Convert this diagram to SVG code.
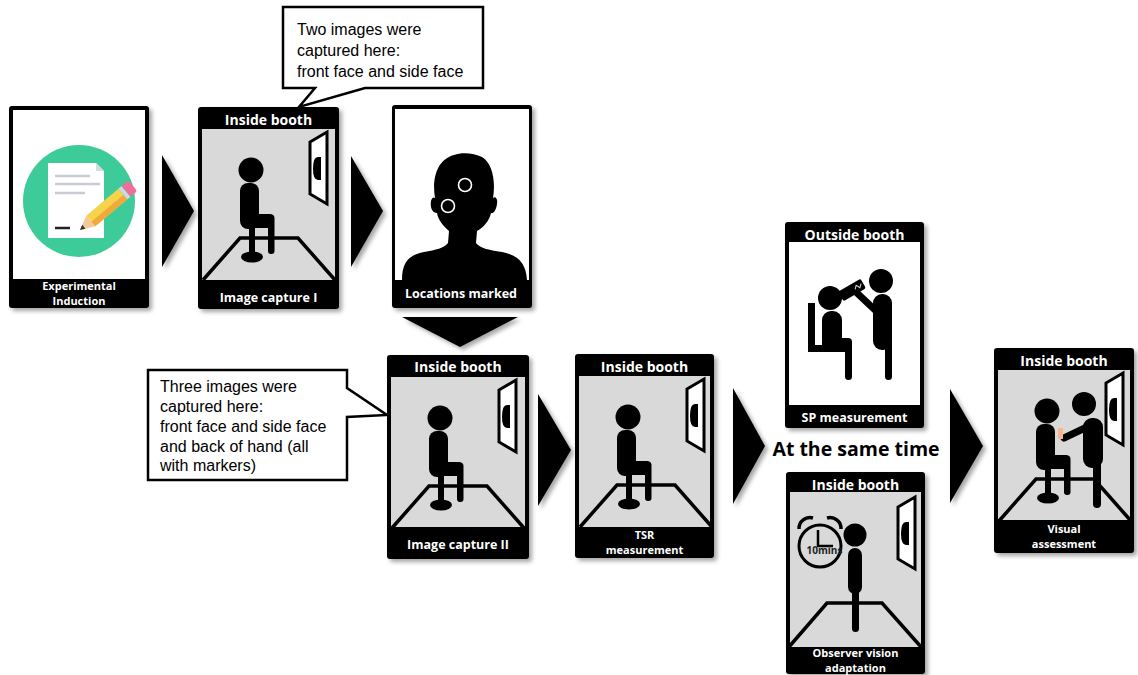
<svg xmlns="http://www.w3.org/2000/svg" width="1138" height="675" viewBox="0 0 1138 675">
  <defs>
    <style>
      .frame{fill:#000;filter:url(#sh)}
      .booth{fill:#d9d9d9}
      .white{fill:#fff}
      .ink{fill:#000}
      .hdr{font-family:"Open Sans","DejaVu Sans",sans-serif;font-weight:700;font-size:14px;fill:#fff;text-anchor:middle}
      .ftr{font-family:"Open Sans","DejaVu Sans",sans-serif;font-weight:700;font-size:12.5px;fill:#fff;text-anchor:middle}
      .ftr2{font-family:"Open Sans","DejaVu Sans",sans-serif;font-weight:700;font-size:11px;fill:#fff;text-anchor:middle}
      .note{font-family:"Liberation Sans",Arial,sans-serif;font-size:16px;fill:#000}
      .big{font-family:"Open Sans","DejaVu Sans",sans-serif;font-weight:700;font-size:19.5px;fill:#000;text-anchor:middle}
      .call{fill:#fff;stroke:#000;stroke-width:2.5;stroke-linejoin:miter}
      .arrow{fill:#000;filter:url(#sh)}
      .floor{fill:none;stroke:#000;stroke-width:3.5;stroke-linejoin:miter}
      .screen{fill:#fff;stroke:#000;stroke-width:3;stroke-linejoin:miter}
    </style>
    <filter id="sh" x="-15%" y="-15%" width="140%" height="140%">
      <feDropShadow dx="3" dy="3" stdDeviation="2" flood-color="#000" flood-opacity="0.35"/>
    </filter>
    <!-- booth floor outline -->
    <g id="floor"><polyline class="floor" points="5,173 42,131 100,131 137,173"/></g>
    <!-- viewing screen on the right wall -->
    <g id="screen">
      <polygon class="screen" points="112,35 129,25 129,97 112,87"/>
      <path class="ink" d="M123,50 V73 H120 Q115,73 115,61.5 Q115,50 120,50 Z"/>
    </g>
    <!-- seated subject on a stool, facing right -->
    <g id="seated" class="ink">
      <circle cx="53" cy="63" r="12.5"/>
      <rect x="42" y="76" width="19" height="46" rx="8"/>
      <rect x="50" y="107" width="26" height="14" rx="4"/>
      <rect x="70" y="108" width="6.5" height="39" rx="3"/>
      <rect x="51" y="120" width="6" height="29"/>
      <ellipse cx="54" cy="150" rx="11" ry="5.5"/>
    </g>
  </defs>

  <!-- flow arrows -->
  <g id="connectors">
    <polygon class="arrow" points="162,155 194,211 162,267"/>
    <polygon class="arrow" points="351,156 383,211 351,267"/>
    <polygon class="arrow" points="402,317 518,317 460,347"/>
    <polygon class="arrow" points="538,394 571,450 538,506"/>
    <polygon class="arrow" points="733,388 765,446 733,504"/>
    <polygon class="arrow" points="950,389 983,446 950,503"/>
  </g>

  <!-- step 1 -->
  <g id="experimental-induction" transform="translate(9,106)">
    <rect class="frame" width="140" height="202" rx="3"/>
    <rect class="white" x="4" y="4" width="132" height="169"/>
    <circle cx="70" cy="95" r="56" fill="#3ecb9a"/>
    <path d="M39,57 H87 L95,65 V132 H39 Z" fill="#fff"/>
    <path d="M87,57 L95,65 H87 Z" fill="#d6d9e0"/>
    <g stroke="#c9ccd6" stroke-width="2.5">
      <line x1="46" y1="70" x2="81" y2="70"/>
      <line x1="46" y1="78" x2="91" y2="78"/>
      <line x1="46" y1="87" x2="76" y2="87"/>
    </g>
    <line x1="46" y1="122" x2="61" y2="122" stroke="#222" stroke-width="2.5"/>
    <g transform="translate(71,124) rotate(-40)">
      <polygon points="0,0 14,-7 14,7" fill="#f3c89a"/>
      <polygon points="0,0 5,-2.5 5,2.5" fill="#333"/>
      <rect x="14" y="-7" width="42" height="14" fill="#f7d24b"/>
      <rect x="14" y="1" width="42" height="6" fill="#f2a93b"/>
      <rect x="56" y="-7" width="4" height="14" fill="#c8dbe8"/>
      <path d="M60,-7 H66 A3,3 0 0 1 69,-4 V4 A3,3 0 0 1 66,7 H60 Z" fill="#ef6f9c"/>
    </g>
    <text class="ftr2" x="70" y="184">Experimental</text>
    <text class="ftr2" x="70" y="199.2">Induction</text>
  </g>

  <!-- step 2 -->
  <g id="image-capture-1" transform="translate(198,107)">
    <rect class="frame" width="141" height="202" rx="3"/>
    <rect class="booth" x="4" y="22" width="133" height="151"/>
    <use href="#floor"/>
    <use href="#screen"/>
    <use href="#seated"/>
    <text class="hdr" x="70.5" y="18">Inside booth</text>
    <text class="ftr" x="70.5" y="195">Image capture I</text>
  </g>

  <!-- step 3 -->
  <g id="locations-marked" transform="translate(392,105)">
    <rect class="frame" width="140" height="203" rx="3"/>
    <rect class="white" x="3" y="4" width="134" height="171"/>
    <path class="ink" d="M10,175 C10,158 16,150 32,147 C44,145 52,143 56,138 L57,126 C50,120 46,114 45,108 C40,108 38,102 39,96 C40,92 42,92 43,93 C40,75 44,55 62,50 C70,47 82,48 90,52 C100,58 104,75 101,93 C103,91 106,93 105,99 C104,106 101,109 99,108 C97,116 92,122 85,126 L84,138 C88,143 96,145 110,147 C126,150 134,158 135,175 Z"/>
    <circle cx="73" cy="80" r="6.5" fill="none" stroke="#fff" stroke-width="1.6"/>
    <circle cx="56" cy="101" r="6.5" fill="none" stroke="#fff" stroke-width="1.6"/>
    <text class="ftr" x="69" y="193">Locations marked</text>
  </g>

  <!-- step 4 -->
  <g id="image-capture-2" transform="translate(387,355)">
    <rect class="frame" width="142" height="204" rx="3"/>
    <rect class="booth" x="4" y="22" width="134" height="150"/>
    <use href="#floor"/>
    <use href="#screen"/>
    <use href="#seated"/>
    <text class="hdr" x="71" y="17">Inside booth</text>
    <text class="ftr" x="71" y="194">Image capture II</text>
  </g>

  <!-- step 5 -->
  <g id="tsr-measurement" transform="translate(575,354)">
    <rect class="frame" width="139" height="204" rx="3"/>
    <rect class="booth" x="4" y="22" width="131" height="151"/>
    <use href="#floor"/>
    <use href="#screen"/>
    <use href="#seated"/>
    <text class="hdr" x="69.5" y="18">Inside booth</text>
    <text class="ftr2" x="69.5" y="185">TSR</text>
    <text class="ftr2" x="69.5" y="200.2">measurement</text>
  </g>

  <!-- step 6a -->
  <g id="sp-measurement" transform="translate(785,222)">
    <rect class="frame" width="139" height="206" rx="3"/>
    <rect class="white" x="4" y="20" width="131" height="163"/>
    <g class="ink">
      <rect x="23" y="81" width="7" height="49"/>
      <rect x="23" y="123" width="40" height="7"/>
      <circle cx="45" cy="76" r="12"/>
      <rect x="37" y="89" width="20" height="37" rx="9"/>
      <rect x="37" y="116" width="30" height="12" rx="4"/>
      <rect x="60" y="118" width="7" height="40" rx="3.5"/>
      <circle cx="96" cy="59" r="12"/>
      <rect x="88" y="72" width="19" height="56" rx="9"/>
      <rect x="100" y="118" width="7" height="40" rx="3.5"/>
      <line x1="90" y1="88" x2="72" y2="71" stroke="#000" stroke-width="7" stroke-linecap="round"/>
    </g>
    <g transform="translate(67,68) rotate(-30)">
      <rect x="-13" y="-5.5" width="26" height="11" rx="2" fill="#000"/>
      <polyline points="3,1 6,-2 8,2 11,-1" fill="none" stroke="#ddd" stroke-width="1"/>
    </g>
    <text class="hdr" x="69.5" y="18">Outside booth</text>
    <text class="ftr" x="69.5" y="200">SP measurement</text>
  </g>

  <!-- step 6b -->
  <g id="observer-vision-adaptation" transform="translate(786,472)">
    <rect class="frame" width="139" height="202" rx="3"/>
    <rect class="booth" x="4" y="20" width="131" height="155"/>
    <polyline class="floor" points="2,176 41,131 96,131 136,176"/>
    <use href="#screen"/>
    <circle cx="34" cy="74" r="21" fill="none" stroke="#000" stroke-width="3"/>
    <path d="M13,57 A11 11 0 0 1 27,46 M41,46 A11 11 0 0 1 55,57" fill="none" stroke="#000" stroke-width="3.5"/>
    <path d="M32,58 V74 H47" fill="none" stroke="#000" stroke-width="2.5"/>
    <text x="38.5" y="82" font-family="Open Sans, DejaVu Sans, sans-serif" font-weight="700" font-size="10" fill="#222" text-anchor="middle">10mins</text>
    <g class="ink">
      <circle cx="69" cy="63" r="11.5"/>
      <rect x="62" y="76" width="14" height="46" rx="7"/>
      <rect x="66" y="110" width="7" height="50" rx="3.5"/>
    </g>
    <text class="hdr" x="69.5" y="18">Inside booth</text>
    <text class="ftr2" x="69.5" y="184.5">Observer vision</text>
    <text class="ftr2" x="69.5" y="199.7">adaptation</text>
  </g>

  <!-- step 7 -->
  <g id="visual-assessment" transform="translate(994,348)">
    <rect class="frame" width="140" height="205" rx="3"/>
    <rect class="booth" x="4" y="22" width="132" height="150"/>
    <use href="#floor"/>
    <use href="#screen"/>
    <use href="#seated"/>
    <g class="ink">
      <circle cx="90" cy="56" r="12"/>
      <rect x="89" y="70" width="20" height="50" rx="9"/>
      <rect x="99" y="110" width="8" height="50" rx="4"/>
      <line x1="93" y1="79" x2="70" y2="90" stroke="#000" stroke-width="7" stroke-linecap="round"/>
    </g>
    <rect x="64" y="80" width="5" height="11" fill="#f8b88b"/>
    <text class="hdr" x="70" y="18">Inside booth</text>
    <text class="ftr2" x="70" y="185">Visual</text>
    <text class="ftr2" x="70" y="200.2">assessment</text>
  </g>

  <!-- note for the first capture -->
  <g id="note-capture-1">
    <path class="call" d="M283,7 H483 V88 H365 L299,107 L315,88 H283 Z"/>
    <text class="note" x="297" y="35">Two images were</text>
    <text class="note" x="297" y="56">captured here:</text>
    <text class="note" x="297" y="77">front face and side face</text>
  </g>

  <!-- note for the second capture -->
  <g id="note-capture-2">
    <path class="call" d="M148,370 H347 V388 L387,415 L347,417 V480 H148 Z"/>
    <text class="note" x="160" y="392">Three images were</text>
    <text class="note" x="160" y="412">captured here:</text>
    <text class="note" x="160" y="432">front face and side face</text>
    <text class="note" x="160" y="452">and back of hand (all</text>
    <text class="note" x="160" y="471">with markers)</text>
  </g>

  <g id="simultaneous-label">
    <text class="big" x="856" y="456">At the same time</text>
  </g>
</svg>
